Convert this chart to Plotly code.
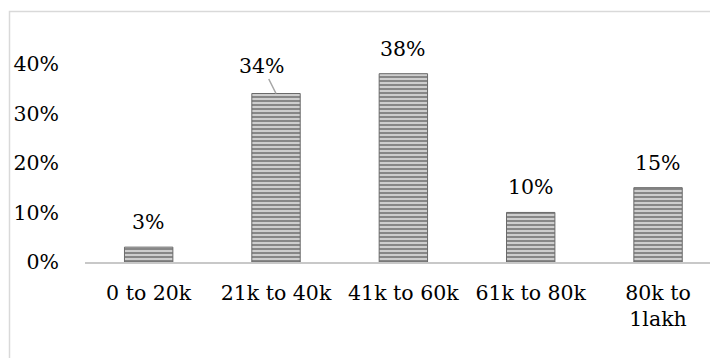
import plotly.graph_objects as go

# Monthly income groups and share of respondents
categories = ["0 to 20k", "21k to 40k", "41k to 60k", "61k to 80k", "80k to<br>1lakh"]
shares = [0.03, 0.34, 0.38, 0.10, 0.15]
y_ticks = [0, 0.1, 0.2, 0.3, 0.4]
y_tick_labels = ["0%", "10%", "20%", "30%", "40%"]

W, H = 710, 358
M_L, M_R, M_T, M_B = 85, 0, 39, 96
FONT = "DejaVu Serif"
FS = 20.5

fig = go.Figure(
    go.Bar(
        x=list(range(len(categories))),
        y=shares,
        width=0.38,
        marker=dict(
            color="#b8b8b8",
            pattern=dict(shape="-", fgcolor="#383838", bgcolor="#d6d6d6",
                         size=4, solidity=0.55),
            line=dict(color="#6a6a6a", width=1),
        ),
        hoverinfo="skip",
    )
)

# Value labels above each bar; the second one sits off-centre with a leader line
for i, v in enumerate(shares):
    label = f"{round(v * 100)}%"
    if i == 1:
        fig.add_annotation(
            x=i, y=v, text=label, showarrow=True, arrowhead=0,
            arrowwidth=1.5, arrowcolor="#a6a6a6", ax=-14, ay=-28,
            standoff=0, font=dict(family=FONT, size=FS, color="#000"),
        )
    else:
        fig.add_annotation(
            x=i, y=v, text=label, showarrow=False, yanchor="bottom",
            yshift=11, font=dict(family=FONT, size=FS, color="#000"),
        )

# Light outer frame of the chart area (runs off the right and bottom edges)
pw = W - M_L - M_R
ph = H - M_T - M_B
def px_x(p):
    return (p - M_L) / pw
def px_y(p):
    return (H - M_B - p) / ph

fig.add_shape(
    type="rect", xref="paper", yref="paper",
    x0=px_x(9.5), x1=px_x(W + 20), y0=px_y(H + 20), y1=px_y(11.5),
    line=dict(color="#d9d9d9", width=1.5), fillcolor="rgba(0,0,0,0)",
    layer="below",
)

fig.update_layout(
    width=W, height=H,
    margin=dict(l=M_L, r=M_R, t=M_T, b=M_B, pad=0),
    paper_bgcolor="white", plot_bgcolor="white",
    showlegend=False,
    font=dict(family=FONT, size=FS, color="#000"),
    xaxis=dict(
        range=[-0.5, 4.408],
        tickmode="array",
        tickvals=list(range(len(categories))),
        ticktext=categories,
        tickangle=0,
        showgrid=False, zeroline=False,
        showline=True, linecolor="#c8c8c8", linewidth=2,
        ticks="", ticklabelstandoff=11,
        tickfont=dict(family=FONT, size=FS, color="#000"),
        fixedrange=True,
    ),
    yaxis=dict(
        range=[0, 0.45],
        tickmode="array",
        tickvals=y_ticks,
        ticktext=y_tick_labels,
        showgrid=False, zeroline=False, showline=False,
        ticks="", ticklabelstandoff=25,
        tickfont=dict(family=FONT, size=FS, color="#000"),
        fixedrange=True,
    ),
)

fig.write_html("out.html")
